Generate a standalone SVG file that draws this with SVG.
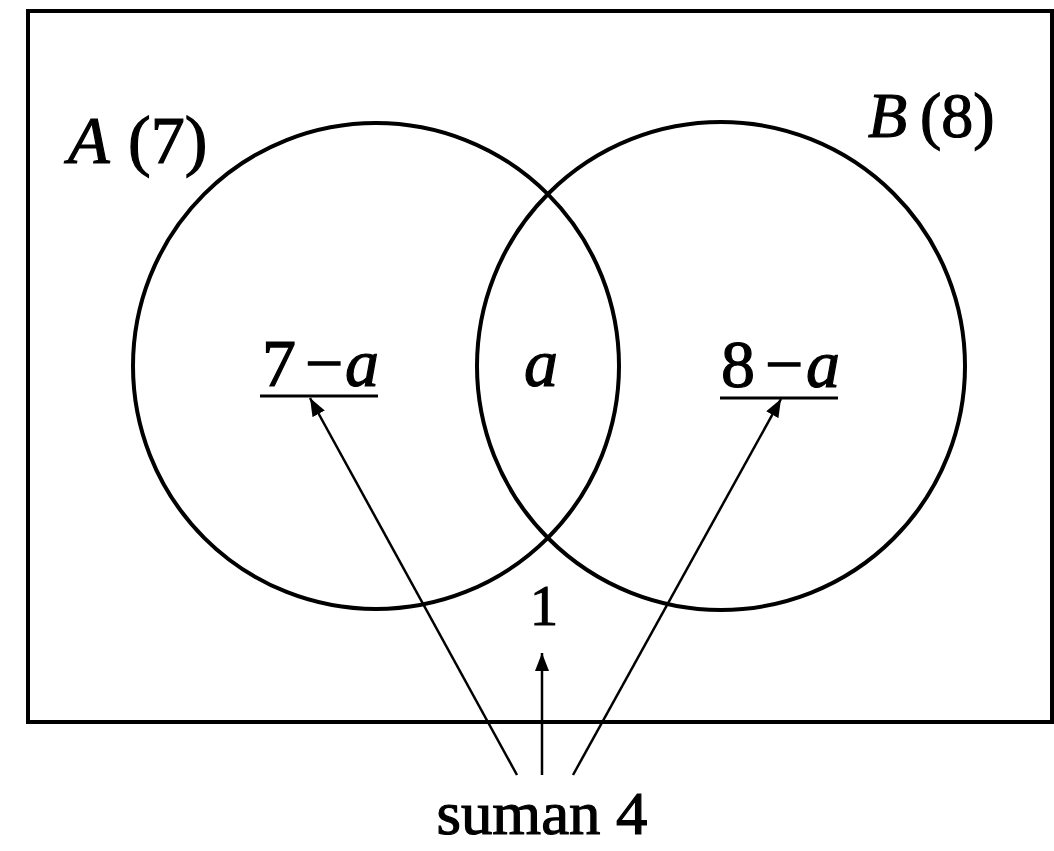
<svg xmlns="http://www.w3.org/2000/svg" width="1054" height="851" viewBox="0 0 1054 851">
  <style>
    .frame { fill: none; stroke: #000; stroke-width: 4; }
    .set { fill: none; stroke: #000; stroke-width: 4; }
    .conn { fill: none; stroke: #000; stroke-width: 2.5; }
    .ul { stroke: #000; stroke-width: 3; }
    text { font-family: "Liberation Serif", "Times New Roman", serif; fill: #000; stroke: #000; stroke-width: 1.2; }
    .lbl { font-size: 68px; }
    .it { font-style: italic; }
  </style>
  <defs>
    <marker id="ah" markerUnits="userSpaceOnUse" markerWidth="20" markerHeight="14" refX="18" refY="7" orient="auto">
      <path d="M0,0 L18,7 L0,14 Z" fill="#000"/>
    </marker>
  </defs>
  <rect width="1054" height="851" fill="#fff"/>
  <g id="universe">
    <rect class="frame" x="28" y="11" width="1024" height="711"/>
  </g>
  <g id="setA">
    <circle class="set" cx="376" cy="366" r="243"/>
    <text class="lbl"><tspan class="it" x="68" y="163">A</tspan><tspan x="128" y="163">(7)</tspan></text>
  </g>
  <g id="setB">
    <circle class="set" cx="721" cy="366" r="244"/>
    <text class="lbl" style="font-size:64px"><tspan class="it" x="868" y="137">B</tspan><tspan x="920" y="137">(8)</tspan></text>
  </g>
  <g id="onlyA">
    <text class="lbl"><tspan x="262" y="386">7</tspan><tspan x="305" y="386">−</tspan><tspan class="it" x="345" y="386">a</tspan></text>
    <line class="ul" x1="260" y1="396" x2="378" y2="396"/>
  </g>
  <g id="both">
    <text class="lbl it" x="524" y="386">a</text>
  </g>
  <g id="onlyB">
    <text class="lbl"><tspan x="721" y="387">8</tspan><tspan x="765" y="387">−</tspan><tspan class="it" x="806" y="387">a</tspan></text>
    <line class="ul" x1="720" y1="398" x2="838" y2="398"/>
  </g>
  <g id="none">
    <text x="544" y="625" text-anchor="middle" style="font-size:56px">1</text>
  </g>
  <g id="sum">
    <text x="542" y="834" text-anchor="middle" style="font-size:62px" textLength="211" lengthAdjust="spacingAndGlyphs">suman 4</text>
  </g>
  <g id="connectors">
    <line class="conn" x1="517" y1="775" x2="310" y2="398" marker-end="url(#ah)"/>
    <line class="conn" x1="542" y1="775" x2="542" y2="653" marker-end="url(#ah)"/>
    <line class="conn" x1="573" y1="775" x2="781" y2="399" marker-end="url(#ah)"/>
  </g>
</svg>
